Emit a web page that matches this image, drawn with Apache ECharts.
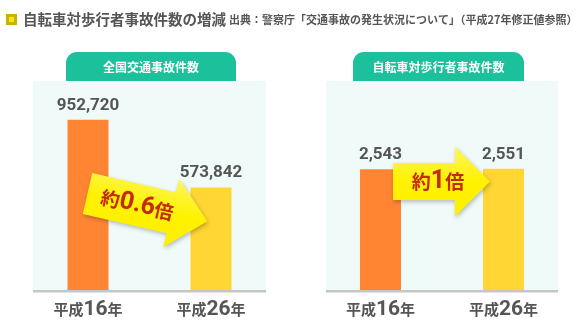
<!DOCTYPE html>
<html><head><meta charset="utf-8">
<script src="https://cdn.jsdelivr.net/npm/echarts@6/dist/echarts.min.js"></script>
<style>html,body{margin:0;padding:0;background:#fff}#c{width:580px;height:328px}</style>
</head><body><div id="c"></div>
<script>
const titleText = '自転車対歩行者事故件数の増減';
const sourceText = '出典：警察庁「交通事故の発生状況について」（平成27年修正値参照）';
const categories = ['平成16年', '平成26年'];
const panelTitles = ['全国交通事故件数', '自転車対歩行者事故件数'];
const allAccidents = [952720, 573842];
const bikePedAccidents = [2543, 2551];
const ratioLabels = ['0.6', '1'];
const barColors = ['#ff8533', '#ffd633'];

const CJK = '"Noto Sans CJK JP", sans-serif';
const NUM = 'Roboto, "Noto Sans CJK JP", sans-serif';
const grey = '#555';

function fmt(v){ return Number(v).toLocaleString('en-US'); }

function catFormatter(v){
  const m = v.match(/^(\D+)(\d+)(\D+)$/);
  return m ? '{a|' + m[1] + '}{b|' + m[2] + '}{a|' + m[3] + '}' : v;
}

const axisRich = {
  a: {fontFamily: CJK, fontWeight: 'bold', fontSize: 15, color: grey},
  b: {fontFamily: NUM, fontWeight: 'bold', fontSize: 21, color: grey}
};

function makeArrow(x, y, rot, L1, L, h, H, textX, ratio){
  const grad = new echarts.graphic.LinearGradient(0, 0, 0, 1, [
    {offset: 0, color: '#fff560'},
    {offset: 0.5, color: '#fff200'},
    {offset: 1, color: '#ffee00'}
  ]);
  return {
    type: 'group', x: x, y: y, rotation: rot, z: 20,
    children: [
      {type: 'polygon', z: 20,
       shape: {points: [[0,-h/2],[L1,-h/2],[L1,-H/2],[L,0],[L1,H/2],[L1,h/2],[0,h/2]]},
       style: {fill: grad, shadowBlur: 4, shadowColor: 'rgba(0,0,0,0.25)', shadowOffsetX: 1, shadowOffsetY: 2}},
      {type: 'text', z: 21, x: textX, y: 0,
       style: {
         text: '{k|約}{n|' + ratio + '}{k|倍}',
         align: 'center', verticalAlign: 'middle',
         rich: {
           k: {fontFamily: CJK, fontWeight: 'bold', fontSize: 19, fill: '#c42a0a'},
           n: {fontFamily: NUM, fontWeight: 'bold', fontSize: 25, fill: '#c42a0a'}
         }
       }}
    ]
  };
}

function panel(x, w, tabX, tabW, title){
  return [
    {type: 'rect', z: 0, shape: {x: x, y: 81, width: w, height: 210}, style: {fill: '#f0faf8'}},
    {type: 'rect', z: 1, shape: {x: x, y: 290, width: w, height: 2.5}, style: {fill: '#c6c6c6'}},
    {type: 'rect', z: 1, shape: {x: tabX, y: 52, width: tabW, height: 29, r: [11, 11, 0, 0]}, style: {fill: '#1cc19b'}},
    {type: 'text', z: 2, x: tabX + tabW/2, y: 67,
     style: {text: title, fill: '#fff', font: 'bold 12px ' + CJK, align: 'center', verticalAlign: 'middle'}}
  ];
}

const chart = echarts.init(document.getElementById('c'), null, {renderer: 'canvas'});

function xAxisCfg(i){
  return {
    type: 'category', gridIndex: i, data: categories,
    axisLine: {show: false}, axisTick: {show: false},
    axisLabel: {interval: 0, hideOverlap: false, margin: 9, formatter: catFormatter, rich: axisRich}
  };
}
function yAxisCfg(i, max){
  return {type: 'value', gridIndex: i, min: 0, max: max, show: false, splitLine: {show: false}};
}
function barSeries(i, data){
  return {
    type: 'bar', xAxisIndex: i, yAxisIndex: i, barWidth: 41, z: 5,
    data: data.map((v, k) => ({value: v, itemStyle: {color: barColors[k]}})),
    label: {show: true, position: 'top', distance: 6, formatter: p => fmt(p.value),
      fontFamily: NUM, fontWeight: 'bold', fontSize: 17, color: grey},
    animation: false
  };
}

chart.setOption({
  animation: false,
  grid: [
    {left: 26.5, width: 246, top: 81, bottom: 38},
    {left: 319, width: 246, top: 81, bottom: 38}
  ],
  xAxis: [xAxisCfg(0), xAxisCfg(1)],
  yAxis: [yAxisCfg(0, 1170000), yAxisCfg(1, 4400)],
  series: [barSeries(0, allAccidents), barSeries(1, bikePedAccidents)],
  graphic: [
    {type: 'rect', z: 3, shape: {x: 6, y: 14, width: 11, height: 11}, style: {fill: '#c9b200'}},
    {type: 'rect', z: 4, shape: {x: 9, y: 17, width: 5, height: 5}, style: {fill: '#ffe600'}},
    {type: 'text', z: 3, x: 23, y: 19,
     style: {text: titleText, fill: grey, font: 'bold 14.5px ' + CJK, verticalAlign: 'middle'}},
    {type: 'text', z: 3, x: 229, y: 20,
     style: {text: sourceText, fill: grey, font: 'bold 11px ' + CJK, verticalAlign: 'middle'}},
    ...panel(33, 233, 66, 170, panelTitles[0]),
    ...panel(326, 232, 353, 171, panelTitles[1]),
    makeArrow(87.5, 193.5, -0.227, 86, 123, 42, 70, 51, ratioLabels[0]),
    makeArrow(393, 181.5, 0, 62, 97, 37, 70, 45, ratioLabels[1])
  ]
});
</script></body></html>
